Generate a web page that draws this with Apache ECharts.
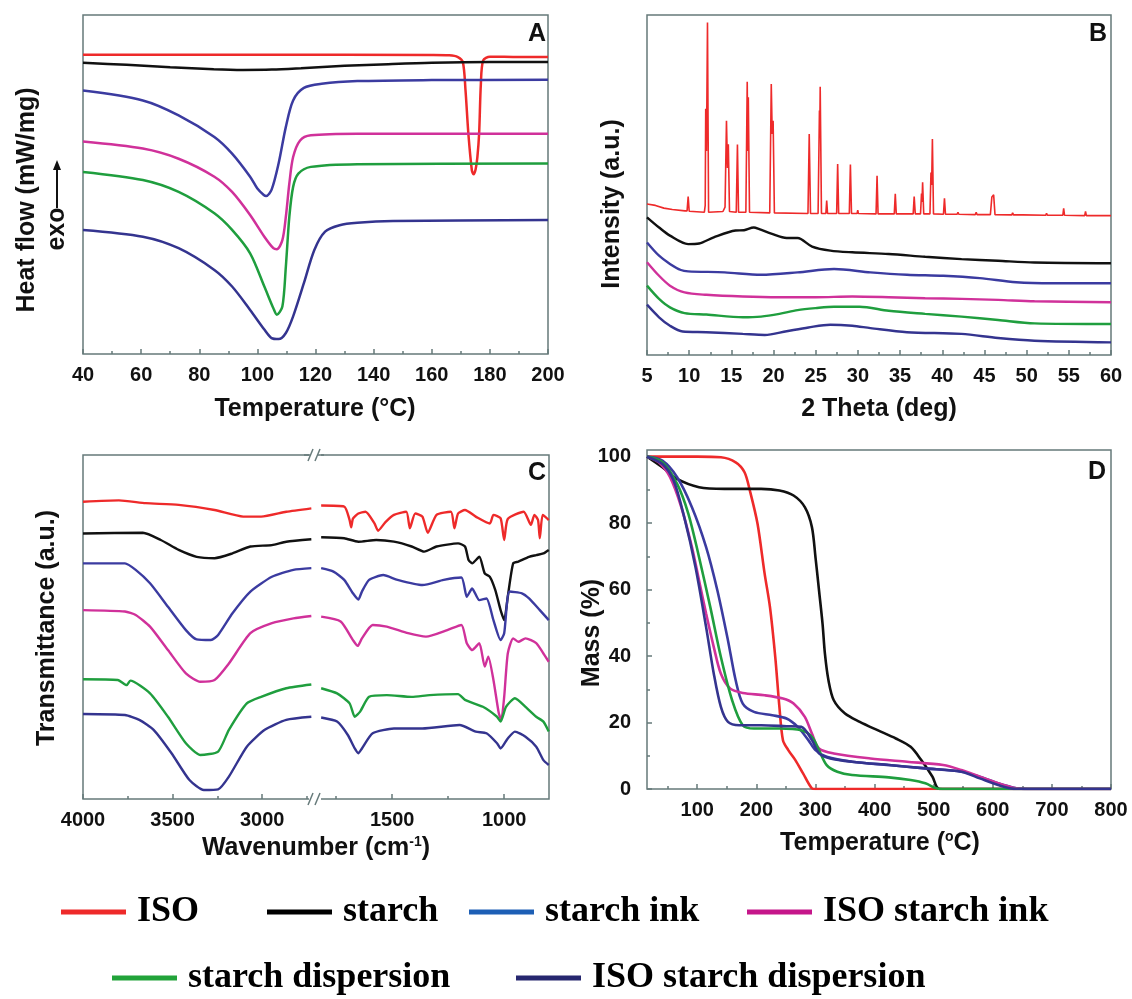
<!DOCTYPE html>
<html><head><meta charset="utf-8">
<script src="https://cdn.jsdelivr.net/npm/echarts@6/dist/echarts.min.js"></script>
<style>html,body{margin:0;padding:0;background:#fff}#c{width:1132px;height:999px}</style>
</head><body><div id="c"></div>
<script>
// ---------- names ----------
const names = ['ISO','starch','starch ink','ISO starch ink','starch dispersion','ISO starch dispersion'];

// ---------- Panel A : DSC (temperature °C, heat flow a.u.) ----------
const dscISO = [[40,88.3],[100,88.3],[160,88.2],[166,88.1],[169,87.6],[170.7,86.1],[171.6,78],[172.6,65],[173.8,54.2],[174.4,53.0],[175.1,54.5],[175.7,58.1],[176.3,65],[176.9,79.7],[177.7,86.6],[180,87.7],[190,87.6],[200,87.6]];
const dscStarch = [[40,85.9],[55,85.3],[70,84.6],[85,84.0],[95,83.8],[105,83.9],[115,84.3],[130,85.0],[145,85.5],[160,85.9],[180,86.1],[200,86.1]];
const dscInk = [[40,77.7],[60.6,74.8],[72.9,70.4],[85.2,64.0],[91.3,59.1],[97.5,52.3],[100,48.8],[102.2,46.9],[103,46.6],[104.9,48.5],[107.3,56.2],[109.8,67.0],[112.3,74.8],[116,78.5],[122.1,79.7],[134.4,80.5],[160,80.8],[200,80.9]];
const dscIsoInk = [[40,62.7],[60.6,60.6],[72.9,57.6],[85.2,52.3],[91.3,47.8],[97.5,41.0],[102.4,34.6],[105.5,31.2],[106.7,30.9],[108.6,33.6],[109.8,40.5],[111,50.3],[112.3,58.1],[114.7,63.0],[118.4,64.5],[134.4,65.0],[200,65.0]];
const dscDisp = [[40,53.7],[60.6,51.3],[72.9,47.8],[85.2,41.5],[91.3,36.6],[97.5,29.7],[102.4,19.9],[105.5,13.5],[106.7,11.6],[108.6,14.0],[109.8,25.8],[111,40.5],[112.3,49.3],[114.1,53.2],[118.4,55.2],[134.4,56.0],[200,56.2]];
const dscIsoDisp = [[40,36.6],[60.6,34.6],[72.9,31.2],[85.2,24.8],[91.3,19.9],[97.5,13.0],[102.4,7.2],[104.9,4.7],[107.3,4.4],[109.8,6.2],[112.3,11.1],[116,20.9],[119.6,30.7],[123.3,36.1],[128.3,38.0],[134.4,38.7],[146.7,39.2],[200,39.5]];

// ---------- Panel B : XRD (2 theta, intensity a.u.) ----------
const xrdISO = [[5,44.4],[6,44.0],[7,43.2],[8,42.8],[9.5,42.4],[9.75,42.4],[9.88,46.6],[10.0,42.3],[11.8,42.0],[11.9,44],[11.96,72.4],[12.05,60],[12.17,97.8],[12.3,42.0],[14.0,42.2],[14.25,43.5],[14.42,68.9],[14.54,55],[14.64,62.0],[14.78,42.2],[15.58,42],[15.72,61.9],[15.85,42],[16.72,42],[16.88,80.4],[16.95,60],[17.01,75.8],[17.15,42],[19.55,41.8],[19.73,79.7],[19.84,65],[19.95,68.9],[20.1,41.8],[24.08,41.6],[24.23,65.0],[24.38,41.6],[25.28,41.6],[25.44,71.9],[25.49,68],[25.53,78.9],[25.68,41.6],[26.2,41.6],[26.3,45.4],[26.4,41.6],[27.48,41.6],[27.6,56.2],[27.72,41.6],[28.98,41.6],[29.11,56.0],[29.24,41.6],[29.9,41.6],[29.98,42.6],[30.06,41.6],[32.15,41.5],[32.27,52.7],[32.39,41.5],[34.31,41.5],[34.43,47.4],[34.55,41.5],[36.55,41.5],[36.67,46.6],[36.8,41.5],[37.42,41.5],[37.54,47.5],[37.6,45],[37.67,50.8],[37.8,41.5],[38.54,41.5],[38.66,53.7],[38.74,50],[38.83,63.5],[38.96,41.5],[40.14,41.4],[40.26,46.1],[40.38,41.4],[41.76,41.4],[41.86,42.0],[41.96,41.4],[43.92,41.3],[44.02,42.0],[44.12,41.3],[45.7,41.3],[45.88,46.5],[45.98,46],[46.09,47.1],[46.25,41.3],[48.24,41.2],[48.34,41.8],[48.44,41.2],[49.54,41.2],[49.64,41.7],[49.74,41.2],[52.26,41.1],[52.36,41.7],[52.46,41.1],[54.29,41.1],[54.39,43.1],[54.49,41.1],[56.88,41.0],[56.98,42.2],[57.08,41.0],[60,41.0]];
const xrdStarch = [[5,40.5],[6.43,37.5],[7.72,35.1],[9.88,32.6],[11.18,32.8],[12.91,34.6],[15.5,36.6],[16.5,36.7],[17.66,37.5],[18.31,37.0],[19.82,35.6],[21.55,34.4],[22.85,34.4],[24.57,31.9],[26.73,30.7],[29.33,30.2],[33.65,29.7],[37.97,28.9],[42.29,28.2],[46.61,27.7],[50.93,27.2],[60,27.0]];
const xrdInk = [[5,33.1],[6.43,29.2],[7.72,26.8],[9.02,25.0],[9.88,24.6],[14.2,24.3],[18.52,23.6],[22.85,24.3],[27.17,25.3],[31.49,24.3],[35.81,23.6],[40.13,23.3],[44.45,22.6],[48.77,21.4],[53.09,21.1],[60,21.1]];
const xrdIsoInk = [[5,27.3],[6.43,23.3],[7.72,20.4],[9.45,18.4],[12.04,17.7],[16.36,17.2],[20.69,17.0],[25,17.0],[29.33,17.2],[33.65,17.0],[37.97,16.7],[42.29,16.5],[46.61,16.2],[50.93,15.8],[60,15.5]];
const xrdDisp = [[5,20.4],[6.43,16.5],[7.72,14.0],[9.45,12.3],[12.04,11.9],[16.36,11.1],[18.52,11.3],[20.69,12.1],[22.85,13.2],[25,13.8],[27.17,14.2],[30.2,14.2],[33.65,13.0],[37.97,12.1],[42.29,11.3],[46.61,10.3],[50.93,9.3],[60,9.1]];
const xrdIsoDisp = [[5,14.8],[6.43,11.1],[7.72,8.6],[9.23,6.9],[12.04,6.7],[16.36,6.2],[18.96,5.9],[21.55,7.0],[24.14,8.1],[26.73,8.9],[29.33,8.6],[31.49,7.9],[35.81,6.7],[42.29,6.2],[46.61,5.0],[50.93,4.2],[60,3.7]];

// ---------- Panel C : FTIR (wavenumber cm-1, transmittance a.u.), high / low ranges ----------
const irISOHi = [[4000,86.4],[3800,86.8],[3650,86.0],[3466,85.5],[3266,84.0],[3106,82.1],[3006,82.1],[2866,83.5],[2726,84.5]];
const irISOLo = [[1817,85.3],[1714,85.0],[1690,81.1],[1683,79.0],[1675,81.5],[1651,83.0],[1619,83.5],[1579,80.1],[1563,78.0],[1530,80.5],[1492,82.6],[1437,83.5],[1421,78.7],[1397,83.0],[1365,82.1],[1341,77.4],[1302,82.6],[1238,83.5],[1222,78.7],[1206,83.0],[1175,84.0],[1127,82.1],[1064,80.1],[1048,82.6],[1016,81.6],[1000,75.3],[984,81.4],[913,83.5],[881,79.7],[865,82.6],[849,81.1],[841,75.8],[828,82.6],[801,81.1]];
const irStarchHi = [[4000,77.2],[3666,77.4],[3566,75.3],[3466,72.4],[3366,70.4],[3266,70.0],[3166,71.4],[3066,73.4],[2946,73.8],[2866,74.8],[2726,75.5]];
const irStarchLo = [[1817,76.1],[1714,75.8],[1651,74.8],[1571,75.3],[1492,74.8],[1413,73.4],[1357,71.9],[1302,73.4],[1206,74.3],[1175,73.4],[1159,69.5],[1143,68.5],[1111,70.4],[1087,65.6],[1064,64.6],[1040,60.8],[1016,54.9],[1000,52.0],[984,58.8],[960,68.5],[937,69.0],[889,70.4],[857,70.9],[825,71.4],[801,72.4]];
const irInkHi = [[4000,68.5],[3766,68.5],[3706,66.6],[3626,62.7],[3526,55.9],[3426,49.1],[3366,46.4],[3286,46.2],[3246,47.7],[3166,54.0],[3066,60.3],[2946,64.6],[2826,66.6],[2726,67.1]];
const irInkLo = [[1817,67.1],[1762,66.1],[1714,63.7],[1675,59.8],[1651,58.0],[1635,60.3],[1603,63.7],[1540,65.1],[1476,63.7],[1365,62.2],[1270,63.7],[1191,64.4],[1167,58.8],[1143,61.2],[1111,57.8],[1079,58.3],[1048,52.0],[1016,46.2],[1000,48.2],[976,60.3],[921,59.8],[889,58.3],[841,54.9],[801,52.0]];
const irIsoInkHi = [[4000,54.9],[3766,54.5],[3706,53.5],[3626,50.1],[3526,43.3],[3426,36.5],[3346,34.1],[3266,34.6],[3186,39.4],[3066,48.2],[2946,51.1],[2826,52.5],[2726,53.2]];
const irIsoInkLo = [[1817,53.0],[1730,51.6],[1675,46.2],[1654,44.5],[1635,46.7],[1587,50.6],[1524,50.1],[1429,48.2],[1349,47.2],[1254,49.1],[1191,50.6],[1167,45.3],[1143,43.3],[1111,45.3],[1087,38.5],[1071,41.4],[1048,34.6],[1024,24.9],[1013,23.0],[1000,29.7],[984,42.3],[960,46.7],[937,45.7],[905,46.7],[857,45.3],[825,42.3],[801,39.9]];
const irDispHi = [[4000,34.8],[3806,34.6],[3756,33.1],[3736,34.4],[3626,30.7],[3526,23.9],[3426,16.2],[3346,12.8],[3246,13.8],[3186,20.1],[3086,27.8],[3006,29.7],[2866,32.2],[2726,33.3]];
const irDispLo = [[1817,32.2],[1746,30.7],[1690,27.8],[1667,23.9],[1643,25.4],[1603,29.7],[1524,30.2],[1413,29.7],[1333,30.2],[1206,30.5],[1175,28.8],[1095,26.8],[1032,23.9],[1016,22.5],[992,26.8],[952,29.3],[905,26.8],[857,23.9],[825,22.5],[801,19.6]];
const irIsoDispHi = [[4000,24.7],[3766,24.4],[3686,23.0],[3606,20.1],[3506,13.3],[3406,5.5],[3326,2.6],[3246,2.8],[3186,6.5],[3086,15.2],[2986,20.1],[2866,23.0],[2726,23.9]];
const irIsoDispLo = [[1817,23.7],[1746,22.5],[1698,18.6],[1667,14.7],[1651,13.3],[1635,14.7],[1587,19.1],[1492,20.5],[1365,20.5],[1199,21.5],[1127,19.6],[1079,19.1],[1032,16.2],[1016,14.7],[984,17.6],[952,19.6],[905,18.1],[857,15.2],[825,11.3],[801,9.9]];

// ---------- Panel D : TGA (temperature °C, mass %) ----------
const tgaISO = [[15,100],[100,100],[140,99.8],[165,98.3],[180,95.3],[189,89.8],[202,79.8],[214,64.8],[223,54.8],[232,39.7],[239,24.7],[245,14.7],[254,11.7],[266,8.7],[279,4.7],[294,0.2],[300,0],[800,0]];
const tgaStarch = [[15,100],[41,96.8],[66,93.3],[103,90.8],[146,90.3],[208,90.3],[239,89.8],[263,88.3],[282,84.8],[294,78.8],[300,69.8],[306,59.8],[312,49.7],[316,40.7],[322,32.7],[331,26.7],[350,22.7],[375,20.2],[405,17.7],[436,15.2],[461,12.7],[479,8.7],[498,3.7],[510,0],[800,0]];
const tgaInk = [[15,100],[41,98.8],[66,93.8],[91,84.8],[115,72.8],[134,59.8],[152,44.7],[165,32.7],[177,25.7],[196,23.2],[227,22.2],[251,21.2],[270,18.7],[288,14.7],[300,11.7],[319,9.7],[362,8.2],[424,7.2],[486,6.2],[547,5.2],[578,3.7],[609,1.7],[640,0.2],[660,0],[800,0]];
const tgaIsoInk = [[15,100],[35,98.3],[54,93.8],[73,84.8],[91,72.8],[103,62.8],[115,52.8],[128,42.7],[140,34.7],[156,30.2],[177,28.9],[214,28.2],[245,27.2],[263,25.7],[282,21.7],[294,16.7],[306,12.2],[331,10.7],[393,9.2],[455,8.2],[516,7.2],[547,5.7],[578,3.7],[609,1.7],[634,0.4],[658,0],[800,0]];
const tgaDisp = [[15,100],[41,98.3],[66,91.8],[85,82.8],[103,69.8],[122,54.8],[140,39.7],[159,26.7],[177,19.2],[196,18.2],[239,18.2],[276,17.7],[294,15.7],[306,11.7],[319,7.2],[337,5.2],[362,4.2],[424,3.5],[461,2.7],[486,1.7],[504,0.2],[515,0],[800,0]];
const tgaIsoDisp = [[15,100],[41,97.8],[60,92.8],[78,81.8],[97,66.8],[115,48.7],[128,34.7],[140,24.7],[152,20.2],[171,19.2],[208,19.2],[251,18.9],[276,18.7],[294,14.7],[306,10.7],[325,9.2],[362,8.2],[424,7.2],[486,6.2],[547,5.2],[578,3.2],[609,1.2],[640,0],[800,0]];

// ---------- tick labels ----------
const irHiLabels = [3000,3500,4000];
const irHiMinor = [2750,3250,3750];
const irLoLabels = [1000,1500];
const irLoMinor = [1250,1750];
const tgaXLabels = [100,200,300,400,500,600,700,800];
const tgaXMinor = [50,150,250,350,450,550,650,750];
const tgaYLabels = [0,20,40,60,80,100];
const tgaYMinor = [10,30,50,70,90];

// ---------- styling ----------
const lineColors = ['#ee2a2a','#111111','#3b3ba0','#d0319a','#1f9e3e','#34348f'];
const legendColors = ['#ee2a2a','#000000','#1d5fb5','#c5168a','#22a33a','#26276f'];
const frame = '#667a7a';
const SANS = 'Liberation Sans';
const lbl = {fontFamily:SANS, fontWeight:'bold', fontSize:20, color:'#111', margin:11, formatter:(v)=>String(v)};

function ser(i, data, xi, yi, w, smooth){
  return {type:'line', name:names[i], data:data, xAxisIndex:xi, yAxisIndex:yi, symbol:'none', showSymbol:false,
    smooth:smooth, lineStyle:{color:lineColors[i], width:w}, itemStyle:{color:lineColors[i]}, silent:true, z:3};
}
const series = [];
[dscISO,dscStarch,dscInk,dscIsoInk,dscDisp,dscIsoDisp].forEach((d,i)=>series.push(ser(i,d,0,0,2.5,0.3)));
[xrdISO,xrdStarch,xrdInk,xrdIsoInk,xrdDisp,xrdIsoDisp].forEach((d,i)=>series.push(ser(i,d,1,1,i===0?1.6:2.4,i===0?false:0.3)));
[irISOHi,irStarchHi,irInkHi,irIsoInkHi,irDispHi,irIsoDispHi].forEach((d,i)=>series.push(ser(i,d,3,3,2.4,0.2)));
[irISOLo,irStarchLo,irInkLo,irIsoInkLo,irDispLo,irIsoDispLo].forEach((d,i)=>series.push(ser(i,d,5,4,2.4,0.2)));
[tgaISO,tgaStarch,tgaInk,tgaIsoInk,tgaDisp,tgaIsoDisp].forEach((d,i)=>series.push(ser(i,d,7,5,2.6,0.3)));

const gridBase = {show:true, borderColor:frame, borderWidth:1.5, backgroundColor:'transparent', containLabel:false};
const grid = [
  Object.assign({left:83, top:15, width:465, height:339}, gridBase),
  Object.assign({left:647, top:15, width:464, height:340}, gridBase),
  Object.assign({left:83, top:455, width:466, height:344}, gridBase),
  {left:83, top:455, width:233, height:344, show:false},
  {left:316, top:455, width:233, height:344, show:false},
  Object.assign({left:647, top:450, width:464, height:339}, gridBase)
];
const tick = {show:true, inside:true, length:5, lineStyle:{color:frame, width:1.5}};
const minorTk = (vals)=>({show:true, inside:true, length:3, customValues:vals, lineStyle:{color:frame, width:1.5}});
const minor = {show:true, splitNumber:2, length:3, lineStyle:{color:frame, width:1.5}};
const noLine = {show:false};
const xAxis = [
  {type:'value', gridIndex:0, position:'bottom', min:40, max:200, interval:20, axisLine:noLine, axisTick:tick, minorTick:minor, axisLabel:lbl, splitLine:{show:false}},
  {type:'value', gridIndex:1, position:'bottom', min:5, max:60, interval:5, axisLine:noLine, axisTick:tick, minorTick:minor, axisLabel:lbl, splitLine:{show:false}},
  {type:'value', gridIndex:2, min:0, max:1, show:false},
  {type:'value', gridIndex:3, position:'bottom', min:2700, max:4000, inverse:true, axisLine:noLine,
    axisTick:Object.assign({customValues:irHiLabels}, tick), axisLabel:Object.assign({customValues:irHiLabels}, lbl), splitLine:{show:false}},
  {type:'value', gridIndex:3, position:'bottom', min:2700, max:4000, inverse:true, axisLine:noLine,
    axisTick:minorTk(irHiMinor), axisLabel:{show:false}, splitLine:{show:false}},
  {type:'value', gridIndex:4, position:'bottom', min:800, max:1840, inverse:true, axisLine:noLine,
    axisTick:Object.assign({customValues:irLoLabels}, tick), axisLabel:Object.assign({customValues:irLoLabels}, lbl), splitLine:{show:false}},
  {type:'value', gridIndex:4, position:'bottom', min:800, max:1840, inverse:true, axisLine:noLine,
    axisTick:minorTk(irLoMinor), axisLabel:{show:false}, splitLine:{show:false}},
  {type:'value', gridIndex:5, position:'bottom', min:15, max:800, axisLine:noLine,
    axisTick:Object.assign({customValues:tgaXLabels}, tick), axisLabel:Object.assign({customValues:tgaXLabels}, lbl), splitLine:{show:false}},
  {type:'value', gridIndex:5, position:'bottom', min:15, max:800, axisLine:noLine,
    axisTick:minorTk(tgaXMinor), axisLabel:{show:false}, splitLine:{show:false}}
];
const yHidden = (g)=>({type:'value', gridIndex:g, position:'left', min:0, max:100, axisLine:noLine, axisTick:{show:false}, axisLabel:{show:false}, splitLine:{show:false}});
const yAxis = [
  yHidden(0), yHidden(1),
  {type:'value', gridIndex:2, min:0, max:1, show:false},
  yHidden(3), yHidden(4),
  {type:'value', gridIndex:5, position:'left', min:0, max:102, axisLine:noLine,
    axisTick:Object.assign({customValues:tgaYLabels}, tick), axisLabel:Object.assign({customValues:tgaYLabels}, lbl, {margin:16}), splitLine:{show:false}},
  {type:'value', gridIndex:5, position:'left', min:0, max:102, axisLine:noLine,
    axisTick:minorTk(tgaYMinor), axisLabel:{show:false}, splitLine:{show:false}}
];

// legends
const legendPos = [[61,894],[267,894],[469,894],[747,894],[112,960],[516,960]];
const legend = names.map((n,i)=>({
  left:legendPos[i][0], top:legendPos[i][1], orient:'horizontal', padding:0, selectedMode:false,
  icon:'rect', itemWidth:65, itemHeight:5,
  data:[{name:n, itemStyle:{color:legendColors[i]}}],
  textStyle:{fontFamily:'Liberation Serif', fontWeight:'bold', fontSize:36, color:'#000', padding:[0,0,0,6]}
}));

function txt(text, x, y, size, rot, rich){
  const st = {text:text, fontSize:size, fontWeight:'bold', fontFamily:SANS, fill:'#111',
    align:'center', verticalAlign:'middle', textAlign:'center', textVerticalAlign:'middle'};
  if (rich) st.rich = rich;
  return {type:'text', x:x, y:y, rotation:rot||0, style:st, z:10};
}
const sup = {s:{fontSize:14, fontWeight:'bold', fontFamily:SANS, fill:'#111', verticalAlign:'top', lineHeight:14}};
const graphic = [
  txt('A', 537, 34, 25), txt('B', 1098, 34, 25), txt('C', 537, 473, 25), txt('D', 1097, 472, 25),
  txt('Temperature (°C)', 315, 409, 25),
  txt('2 Theta (deg)', 879, 409, 25),
  txt('Wavenumber (cm{s|-1})', 316, 848, 25, 0, sup),
  txt('Temperature ({s|o}C)', 880, 843, 25, 0, sup),
  txt('Heat flow (mW/mg)', 27, 200, 25, Math.PI/2),
  txt('exo', 57, 229, 25, Math.PI/2),
  {type:'line', shape:{x1:57, y1:208, x2:57, y2:168}, style:{stroke:'#111', lineWidth:2}},
  {type:'polygon', shape:{points:[[57,160],[53,170],[61,170]]}, style:{fill:'#111'}},
  txt('Intensity (a.u.)', 612, 204, 25, Math.PI/2),
  txt('Transmittance (a.u.)', 47, 628, 25, Math.PI/2),
  txt('Mass (%)', 592, 633, 25, Math.PI/2),
  // axis break marks in panel C
  {type:'rect', shape:{x:309, y:450, width:12, height:10}, style:{fill:'#fff'}, z:11},
  {type:'rect', shape:{x:309, y:794, width:12, height:10}, style:{fill:'#fff'}, z:11},
  {type:'line', shape:{x1:308, y1:461, x2:313, y2:449}, style:{stroke:frame, lineWidth:1.5}, z:12},
  {type:'line', shape:{x1:315, y1:461, x2:320, y2:449}, style:{stroke:frame, lineWidth:1.5}, z:12},
  {type:'line', shape:{x1:308, y1:805, x2:313, y2:793}, style:{stroke:frame, lineWidth:1.5}, z:12},
  {type:'line', shape:{x1:315, y1:805, x2:320, y2:793}, style:{stroke:frame, lineWidth:1.5}, z:12},
  {type:'line', shape:{x1:304, y1:455, x2:310, y2:455}, style:{stroke:frame, lineWidth:1.5}, z:12},
  {type:'line', shape:{x1:318, y1:455, x2:324, y2:455}, style:{stroke:frame, lineWidth:1.5}, z:12}
];

const chart = echarts.init(document.getElementById('c'), null, {renderer:'canvas'});
chart.setOption({animation:false, backgroundColor:'#fff', grid, xAxis, yAxis, series, legend, graphic});
</script></body></html>
